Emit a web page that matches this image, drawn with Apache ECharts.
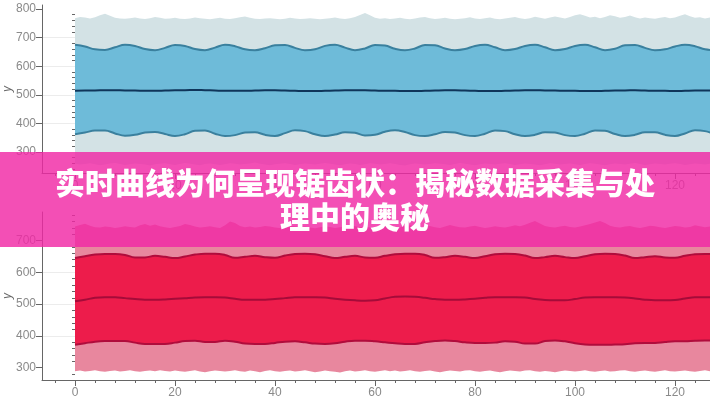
<!DOCTYPE html>
<html><head><meta charset="utf-8">
<script src="https://cdn.jsdelivr.net/npm/echarts@6/dist/echarts.min.js"></script>
<style>html,body{margin:0;padding:0;background:#fff}#c{width:710px;height:400px}</style>
</head><body><div id="c"></div>
<script>
// ---------- text ----------
const titleLines = ['实时曲线为何呈现锯齿状：揭秘数据采集与处', '理中的奥秘'];
const yName = 'y';
// ---------- tick labels ----------
const xTickLabels = [0, 20, 40, 60, 80, 100, 120];
const topYTickLabels = [300, 400, 500, 600, 700, 800];
const bottomYTickLabels = [300, 400, 500, 600, 700];

// ---------- top chart (blue) : samples every 1 unit ----------
const topOuterHigh = [
768,772,770,767,771,778,783,776,769,767,
766,768,770,767,765,768,772,769,766,767,
769,766,765,767,770,768,766,764,767,769,
766,765,768,771,774,769,766,765,767,768,
766,764,766,769,767,765,766,768,766,764,
766,768,770,767,765,768,772,779,786,778,
769,766,768,765,767,769,766,764,767,770,
772,768,765,767,769,766,764,766,768,771,
767,765,768,770,766,764,767,769,772,768,
765,768,773,769,766,770,774,770,767,772,
778,782,776,770,773,768,772,778,775,769,
772,777,771,767,770,768,766,769,772,768,
770,776,782,775,769,771,767,770];
const topOuterLow = [
259,256,258,261,257,254,256,260,262,258,
255,257,260,258,256,253,257,259,261,257,
255,258,262,259,256,254,258,260,257,255,
257,261,259,256,258,260,263,259,256,254,
257,259,261,258,255,257,260,258,256,259,
262,259,256,254,257,260,258,255,257,261,
259,256,258,261,258,255,253,257,260,258,
256,258,261,259,257,255,258,262,259,256,
254,257,260,258,256,259,261,258,255,257,
260,258,256,254,257,261,259,256,258,260,
257,255,258,261,259,256,254,257,260,258,
256,259,262,258,255,257,260,258,256,259,
261,258,255,257,260,258,256,259];
// ---------- top chart : samples every 2 units ----------
const topInnerHigh = [
675,669,659,657,666,675,671,660,656,664,
674,671,660,656,665,675,670,659,656,663,
673,674,664,656,659,671,675,665,656,662,
674,672,661,656,662,674,673,662,656,660,
671,675,666,656,660,671,675,666,656,660,
671,675,666,656,661,673,674,664,656,659,
669,675,670,659,656];
const topMedian = [
514,515,515,516,516,515,515,514,514,515,
516,516,517,516,515,514,514,514,515,516,
516,515,514,513,513,514,515,516,516,516,
515,514,514,513,513,514,515,516,516,515,
514,513,513,514,515,516,516,515,515,514,
514,513,513,514,515,515,516,515,514,514,
513,514,515,515,514];
const topInnerLow = [
362,368,375,375,365,357,360,368,370,363,
356,362,374,375,364,356,359,368,369,360,
356,366,376,373,362,356,361,369,367,358,
360,371,376,370,359,356,362,370,368,359,
356,364,375,373,362,356,360,369,368,359,
356,364,375,374,363,356,360,369,369,360,
356,365,376,373,362];

// ---------- bottom chart (red) : samples every 1 unit ----------
const bottomOuterHigh = [
744,749,753,747,742,741,744,743,740,742,
745,743,741,748,752,747,751,745,742,740,
743,746,752,749,744,741,743,745,742,740,
748,760,755,746,742,744,741,743,746,744,
741,740,743,747,745,742,744,741,739,742,
745,743,740,742,746,750,745,742,744,741,
740,743,747,744,741,742,745,748,744,741,
743,746,742,740,744,749,745,742,741,744,
747,743,740,742,745,743,741,744,748,745,
750,756,762,754,746,743,741,744,747,743,
741,744,748,752,757,762,755,747,743,741,
744,746,742,740,743,747,745,742,740,743,
746,744,741,743,748,745,742,744];
const bottomOuterLow = [
289,291,288,290,292,289,287,290,291,288,
290,292,289,287,290,291,289,292,290,288,
291,289,287,290,292,288,286,289,291,290,
288,290,292,289,287,291,289,286,290,292,
289,287,290,291,288,290,292,289,286,288,
291,289,287,285,289,291,288,290,292,289,
287,290,292,289,291,288,290,292,289,287,
290,291,288,286,289,291,290,288,291,292,
289,287,290,291,288,286,289,291,290,288,
291,292,289,287,290,288,286,289,291,290,
288,290,292,289,287,290,291,288,289,291,
292,289,287,290,291,289,287,290,292,289,
288,290,291,289,287,290,292,289];
// ---------- bottom chart : samples every 2 units ----------
const bottomInnerHigh = [
645,651,656,658,658,655,647,647,652,649,
645,650,656,659,659,655,646,649,652,648,
646,653,658,659,657,651,645,649,652,647,
646,652,657,659,659,655,646,648,652,649,
645,651,657,659,658,653,645,648,652,648,
645,651,657,659,658,653,645,648,651,647,
646,652,657,658,658];
const bottomMedian = [
509,514,520,522,522,519,516,514,514,515,
517,519,521,522,522,521,517,514,514,514,
516,519,522,522,522,521,517,514,512,511,
512,518,523,524,523,520,516,514,514,515,
517,520,522,522,522,521,516,513,512,512,
516,521,522,522,522,521,518,514,512,512,
513,518,522,522,522];
const bottomInnerLow = [
372,377,382,384,384,384,379,375,375,375,
379,384,385,381,381,385,382,376,375,375,
378,382,383,380,376,375,377,382,385,385,
383,380,377,375,375,380,384,386,384,380,
378,378,379,383,382,376,376,384,386,383,
377,373,372,372,373,374,377,378,378,381,
383,383,385,386,386];

// ---------- helpers ----------
const pts = (arr, step) => arr.map((v, i) => [i * step, v]);
function minorValues(lo, hi, step, major) {
  const out = [];
  for (let v = Math.ceil(lo / step) * step; v <= hi; v += step) if (v % major !== 0) out.push(v);
  return out;
}
const X_MIN = -6.6, X_MAX = 127;
const ranges = [ {min: 226.6, max: 814}, {min: 261.4, max: 790} ];
const yTicks = [topYTickLabels, bottomYTickLabels];
const grids = [
  {left: 42, right: 0, top: 5, height: 168, containLabel: false, outerBoundsMode: 'none'},
  {left: 42, right: 0, top: 212, height: 168, containLabel: false, outerBoundsMode: 'none'}
];
const axisColor = '#666';
const labelStyle = {color: '#8a8a8a', fontSize: 12, fontFamily: 'Liberation Sans, Arial, sans-serif'};

const xAxes = [], yAxes = [];
[0, 1].forEach(g => {
  xAxes.push({
    gridIndex: g, type: 'value', min: X_MIN, max: X_MAX, position: 'bottom', z: 10,
    axisLine: {show: true, onZero: false, lineStyle: {color: axisColor, width: 1}},
    axisTick: {show: true, length: 6, customValues: xTickLabels, lineStyle: {color: axisColor}},
    axisLabel: Object.assign({margin: 7, customValues: xTickLabels}, labelStyle),
    splitLine: {show: false}
  });
  xAxes.push({
    gridIndex: g, type: 'value', min: X_MIN, max: X_MAX, position: 'bottom', z: 10,
    axisLine: {show: false},
    axisTick: {show: true, length: 3, customValues: minorValues(X_MIN, X_MAX, 4, 20), lineStyle: {color: axisColor}},
    axisLabel: {show: false}, splitLine: {show: false}
  });
  const r = ranges[g];
  yAxes.push({
    gridIndex: g, type: 'value', min: r.min, max: r.max, position: 'left',
    name: yName, nameLocation: 'middle', nameGap: 28, nameRotate: 90, nameMoveOverlap: false,
    nameTextStyle: {color: '#666', fontSize: 12, fontStyle: 'italic', fontFamily: 'Liberation Sans, Arial, sans-serif'},
    axisLine: {show: true, onZero: false, lineStyle: {color: axisColor, width: 1}},
    axisTick: {show: true, length: 6, customValues: yTicks[g], lineStyle: {color: axisColor}},
    axisLabel: Object.assign({margin: 6, customValues: yTicks[g]}, labelStyle),
    splitLine: {show: true, showMinLine: false, showMaxLine: false, lineStyle: {color: '#ececec', width: 1}}
  });
  yAxes.push({
    gridIndex: g, type: 'value', min: r.min, max: r.max, position: 'left',
    axisLine: {show: false},
    axisTick: {show: true, length: 3, customValues: minorValues(r.min, r.max, 20, 100), lineStyle: {color: axisColor}},
    axisLabel: {show: false}, splitLine: {show: false}
  });
});

function bandSeries(g, outerHigh, innerHigh, median, innerLow, outerLow, c) {
  const base = {type: 'line', xAxisIndex: 2 * g, yAxisIndex: 2 * g, showSymbol: false, symbol: 'none', silent: true, animation: false};
  return [
    Object.assign({}, base, {data: pts(outerHigh, 1), lineStyle: {width: 0}, areaStyle: {color: c.light, opacity: 1, origin: 'start'}}),
    Object.assign({}, base, {data: pts(innerHigh, 2), smooth: 0.4, lineStyle: {width: 2, color: c.edge}, areaStyle: {color: c.inner, opacity: 1, origin: 'start'}}),
    Object.assign({}, base, {data: pts(innerLow, 2), smooth: 0.4, lineStyle: {width: 2, color: c.edge}, areaStyle: {color: c.light, opacity: 1, origin: 'start'}}),
    Object.assign({}, base, {data: pts(outerLow, 1), lineStyle: {width: 0}, areaStyle: {color: '#ffffff', opacity: 1, origin: 'start'}}),
    Object.assign({}, base, {data: pts(median, 2), smooth: 0.4, lineStyle: {width: 2, color: c.median}})
  ];
}

const series = [].concat(
  bandSeries(0, topOuterHigh, topInnerHigh, topMedian, topInnerLow, topOuterLow,
    {light: '#d3e2e5', inner: '#6ebbd9', edge: '#3a809e', median: '#0f355a'}),
  bandSeries(1, bottomOuterHigh, bottomInnerHigh, bottomMedian, bottomInnerLow, bottomOuterLow,
    {light: '#e8879e', inner: '#ed1c4b', edge: '#b00c3c', median: '#a50b39'})
);

const chart = echarts.init(document.getElementById('c'), null, {renderer: 'canvas'});
chart.setOption({
  animation: false,
  backgroundColor: '#ffffff',
  grid: grids,
  xAxis: xAxes,
  yAxis: yAxes,
  series: series,
  graphic: [
    {type: 'rect', shape: {x: 0, y: 152, width: 710, height: 95}, style: {fill: 'rgba(240,40,165,0.82)'}, z: 100, silent: true},
    {type: 'text', x: 355, y: 183, z: 101, silent: true,
     style: {text: titleLines[0], fill: '#ffffff', font: '900 30px "Noto Sans CJK SC"', align: 'center', verticalAlign: 'middle', textAlign: 'center', textVerticalAlign: 'middle'}},
    {type: 'text', x: 355, y: 217, z: 101, silent: true,
     style: {text: titleLines[1], fill: '#ffffff', font: '900 30px "Noto Sans CJK SC"', align: 'center', verticalAlign: 'middle', textAlign: 'center', textVerticalAlign: 'middle'}}
  ]
});
</script>
</body></html>
